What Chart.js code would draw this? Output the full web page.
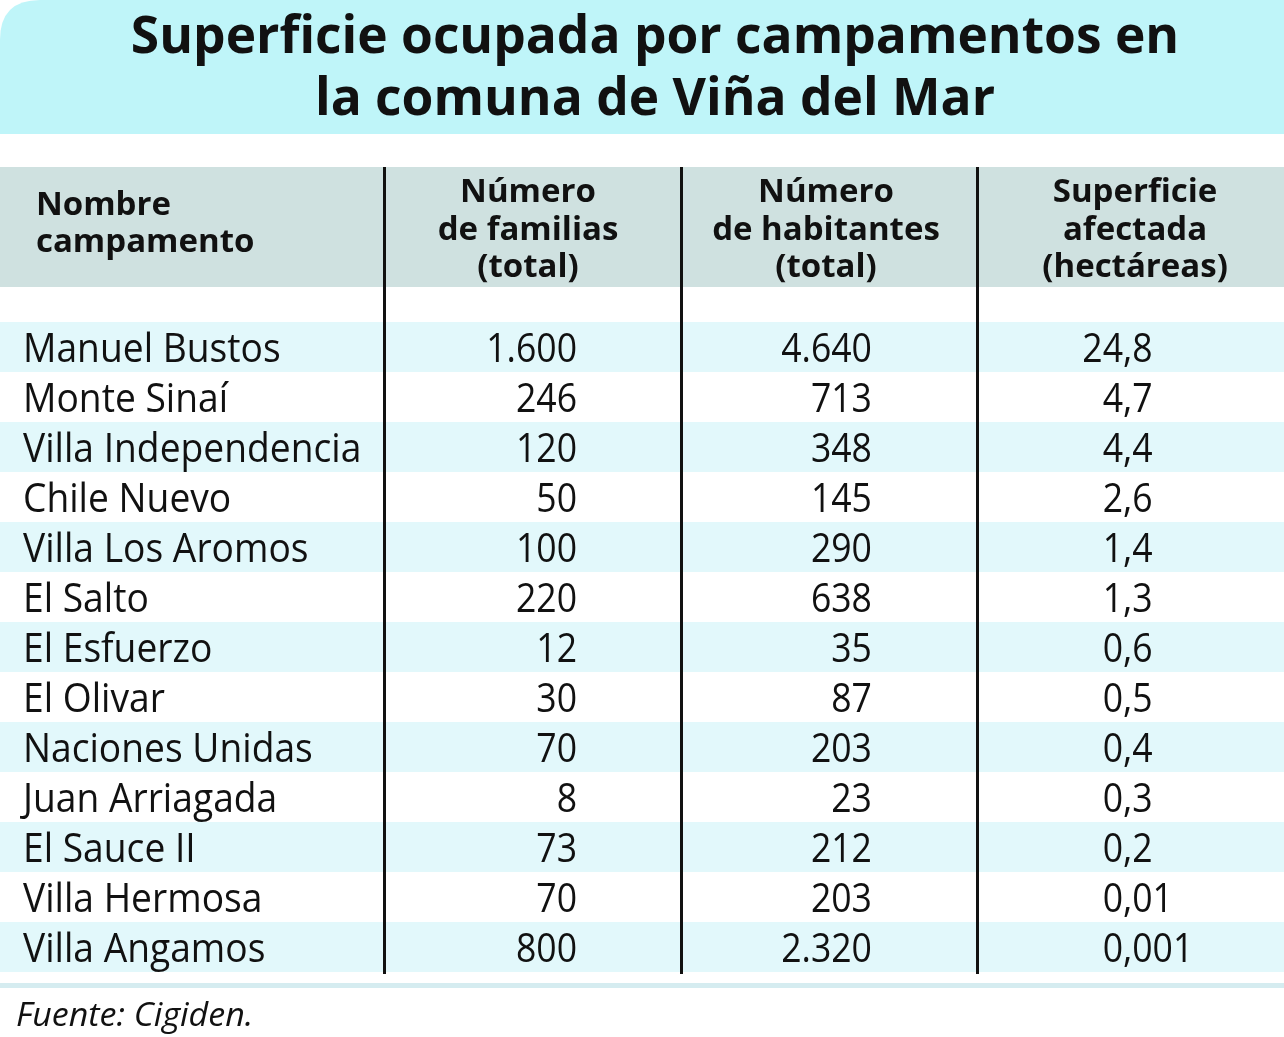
<!DOCTYPE html>
<html>
<head>
<meta charset="utf-8">
<script src="https://cdn.jsdelivr.net/npm/chart.js@4.4.1/dist/chart.umd.min.js"></script>
<style>
  html, body { margin: 0; padding: 0; background: #ffffff; }
  #wrap { width: 1284px; height: 1037px; }
</style>
</head>
<body>
<div id="wrap"><canvas id="c" width="1284" height="1037"></canvas></div>
<script>
// ---- data ----
const titleLines = ['Superficie ocupada por campamentos en', 'la comuna de Viña del Mar'];
const columnHeaders = [
  ['Nombre', 'campamento'],
  ['Número', 'de familias', '(total)'],
  ['Número', 'de habitantes', '(total)'],
  ['Superficie', 'afectada', '(hectáreas)']
];
const campamentos = ['Manuel Bustos', 'Monte Sinaí', 'Villa Independencia', 'Chile Nuevo', 'Villa Los Aromos',
  'El Salto', 'El Esfuerzo', 'El Olivar', 'Naciones Unidas', 'Juan Arriagada', 'El Sauce II', 'Villa Hermosa', 'Villa Angamos'];
const familias = [1600, 246, 120, 50, 100, 220, 12, 30, 70, 8, 73, 70, 800];
const habitantes = [4640, 713, 348, 145, 290, 638, 35, 87, 203, 23, 212, 203, 2320];
const superficie = [24.8, 4.7, 4.4, 2.6, 1.4, 1.3, 0.6, 0.5, 0.4, 0.3, 0.2, 0.01, 0.001];
const fuente = 'Fuente: Cigiden.';

// ---- formatting ----
function fmtInt(v) { return String(v).replace(/\B(?=(\d{3})+(?!\d))/g, '.'); }
function fmtDec(v) { return String(v).replace('.', ','); }

// ---- style ----
const S = {
  titleBand: '#bff5f9',
  headerBand: '#cfe1e0',
  rowBand: '#e2f8fb',
  bottomRule: '#d5ecf0',
  ink: '#111111',
  fontName: '"Open Sans", "Noto Sans", sans-serif',
  bodySize: 40, nameSx: 0.93, numSx: 0.89,
  headSize: 33, headSx: 1.0,
  titleSize: 52, titleSx: 0.99,
  srcSize: 33, srcSx: 1.03
};
// column layout (fractions of table width)
const colRules = [0.299, 0.5304, 0.761];
const colAnchor = { name: 0.0179, fam: 0.4494, hab: 0.6791, sup: 0.8746 };
const headAnchor = [0.028, 0.4112, 0.6433, 0.884];

function txt(ctx, s, x, y, align, font, sx) {
  ctx.save();
  ctx.font = font;
  ctx.textAlign = align;
  ctx.textBaseline = 'alphabetic';
  ctx.fillStyle = S.ink;
  ctx.translate(x, y);
  ctx.scale(sx, 1);
  ctx.fillText(s, 0, 0);
  ctx.restore();
}

const tablePlugin = {
  id: 'tablePlugin',
  beforeDraw(chart) {
    const ctx = chart.ctx;
    const W = chart.width;
    const xs = chart.scales.x, ys = chart.scales.y;
    const ca = chart.chartArea;
    ctx.save();
    ctx.fillStyle = '#ffffff';
    ctx.fillRect(0, 0, W, chart.height);

    // title band with rounded top-left corner
    const r = 40, bandH = 134;
    ctx.fillStyle = S.titleBand;
    ctx.beginPath();
    ctx.moveTo(0, bandH);
    ctx.lineTo(0, r);
    ctx.quadraticCurveTo(0, 0, r, 0);
    ctx.lineTo(W, 0);
    ctx.lineTo(W, bandH);
    ctx.closePath();
    ctx.fill();
    const tFont = 'bold ' + S.titleSize + 'px ' + S.fontName;
    txt(ctx, titleLines[0], 655, 53, 'center', tFont, S.titleSx);
    txt(ctx, titleLines[1], 655, 115, 'center', tFont, S.titleSx);

    // header band
    ctx.fillStyle = S.headerBand;
    ctx.fillRect(0, 167, W, 120);

    // row bands
    const step = ys.getPixelForValue(1) - ys.getPixelForValue(0);
    campamentos.forEach((n, i) => {
      if (i % 2 === 0) {
        const yc = ys.getPixelForValue(i);
        ctx.fillStyle = S.rowBand;
        ctx.fillRect(ca.left, yc - step / 2, ca.right - ca.left, step);
      }
    });

    // vertical rules
    ctx.strokeStyle = '#111111';
    ctx.lineWidth = 3;
    colRules.forEach(f => {
      const x = Math.round(xs.getPixelForValue(f)) + 0.5;
      ctx.beginPath();
      ctx.moveTo(x, 167);
      ctx.lineTo(x, ca.bottom + 2);
      ctx.stroke();
    });

    // headers
    const hFont = 'bold ' + S.headSize + 'px ' + S.fontName;
    txt(ctx, columnHeaders[0][0], xs.getPixelForValue(headAnchor[0]), 215, 'left', hFont, S.headSx);
    txt(ctx, columnHeaders[0][1], xs.getPixelForValue(headAnchor[0]), 252, 'left', hFont, S.headSx);
    for (let c = 1; c < 4; c++) {
      columnHeaders[c].forEach((line, k) => {
        txt(ctx, line, xs.getPixelForValue(headAnchor[c]), 202 + 37.5 * k, 'center', hFont, S.headSx);
      });
    }

    // cells
    const bFont = S.bodySize + 'px ' + S.fontName;
    campamentos.forEach((n, i) => {
      const yb = ys.getPixelForValue(i) + 15;
      txt(ctx, n, xs.getPixelForValue(colAnchor.name), yb, 'left', bFont, S.nameSx);
      txt(ctx, fmtInt(familias[i]), xs.getPixelForValue(colAnchor.fam), yb, 'right', bFont, S.numSx);
      txt(ctx, fmtInt(habitantes[i]), xs.getPixelForValue(colAnchor.hab), yb, 'right', bFont, S.numSx);
      const parts = fmtDec(superficie[i]).split(',');
      const xc = xs.getPixelForValue(colAnchor.sup);
      txt(ctx, parts[0], xc, yb, 'right', bFont, S.numSx);
      if (parts.length > 1) txt(ctx, ',' + parts[1], xc, yb, 'left', bFont, S.numSx);
    });

    // bottom rule
    ctx.fillStyle = S.bottomRule;
    ctx.fillRect(0, 983, W, 5);

    // source
    txt(ctx, fuente, 16, 1026, 'left', 'italic ' + S.srcSize + 'px ' + S.fontName, S.srcSx);
    ctx.restore();
  }
};

new Chart(document.getElementById('c'), {
  type: 'bar',
  data: { labels: campamentos, datasets: [] },
  options: {
    responsive: false,
    animation: false,
    devicePixelRatio: 1,
    indexAxis: 'y',
    layout: { padding: { top: 322, bottom: 65, left: 0, right: 0 } },
    plugins: { legend: { display: false }, tooltip: { enabled: false }, title: { display: false } },
    scales: {
      x: { type: 'linear', min: 0, max: 1, display: false },
      y: { type: 'category', offset: true, display: false }
    }
  },
  plugins: [tablePlugin]
});
</script>
</body>
</html>
